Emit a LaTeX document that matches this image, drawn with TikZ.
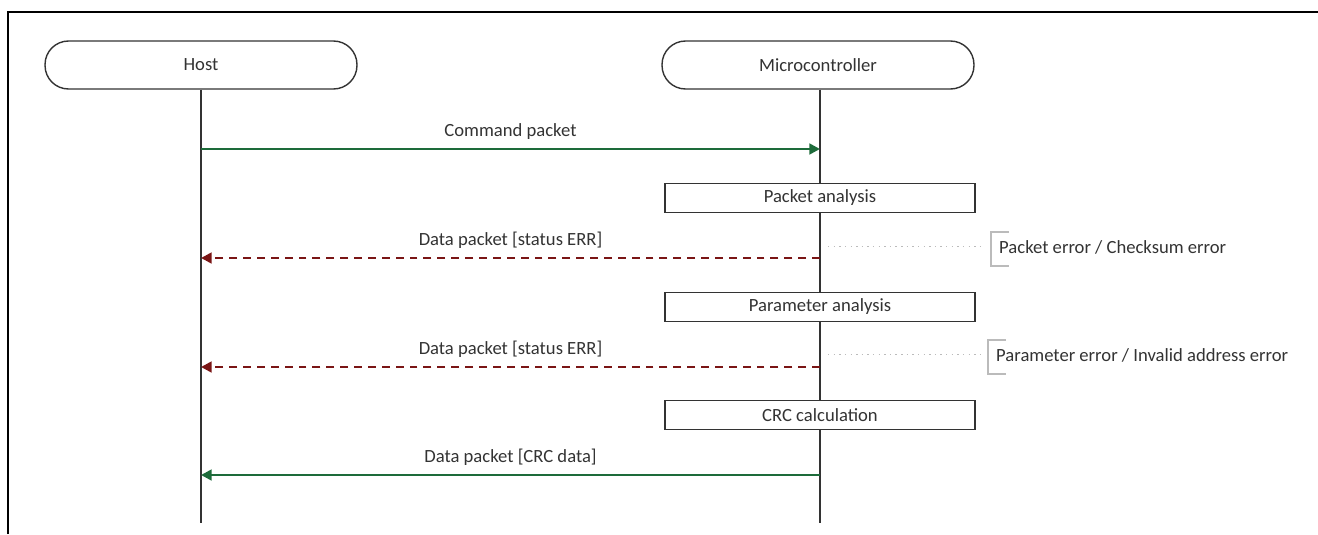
\documentclass[tikz,border=0pt]{standalone}
\usepackage{fontspec}
\setmainfont{Carlito}
\usetikzlibrary{positioning, arrows.meta}
\definecolor{msggreen}{HTML}{1D6B3A}
\definecolor{errred}{HTML}{7A1515}
\definecolor{linegray}{HTML}{333333}
\definecolor{notegray}{HTML}{BBBBBB}
\begin{document}
\begin{tikzpicture}[
      x=0.02cm, y=-0.02cm,
      every node/.style={font=\fontsize{10.6}{12}\selectfont, text=linegray},
      actor/.style={draw=linegray, line width=0.8pt, rounded corners=0.47cm, minimum width=6.24cm, minimum height=0.96cm, fill=white},
      stepbox/.style={draw=linegray, line width=0.9pt, minimum width=6.2cm, minimum height=0.58cm, fill=white, inner sep=0pt},
      lifeline/.style={draw=linegray, line width=0.8pt},
      okmsg/.style={draw=msggreen, line width=1.6pt, -{Triangle[length=6pt, width=6pt]}},
      errmsg/.style={draw=errred, line width=1.6pt, dash pattern=on 4.5pt off 3.4pt, -{Triangle[length=6pt, width=6pt]}},
      notedots/.style={draw=notegray, line width=0.5pt, dash pattern=on 0.8pt off 2.4pt},
      bracket/.style={draw=notegray, line width=0.6pt},
    ]
    \useasboundingbox (0,0) rectangle (1318,534);
    % frame
    \draw[line width=1.6pt] (8,534) -- (8,12) -- (1318,12);

    % participants
    \node[actor] (host) at (201,65) {Host};
    \node[actor] (mcu) at (818,65) {Microcontroller};
    \coordinate (hostend) at (201,523);
    \coordinate (mcuend) at (820,523);
    \draw[lifeline] (host.south) -- (hostend);
    \draw[lifeline] (mcu.south -| mcuend) -- (mcuend);

    % processing steps
    \node[stepbox] (pkt) at (820,198) {Packet analysis};
    \node[stepbox] (par) at (820,307) {Parameter analysis};
    \node[stepbox] (crc) at (820,415) {CRC calculation};

    % messages
    \coordinate (h1) at (201,149);
    \coordinate (m1) at (820,149);
    \coordinate (h2) at (201,258);
    \coordinate (m2) at (820,258);
    \coordinate (h3) at (201,367);
    \coordinate (m3) at (820,367);
    \coordinate (h4) at (201,475);
    \coordinate (m4) at (820,475);

    \draw[okmsg] (h1) -- node[above=1pt] (cmd) {Command packet} (m1);
    \draw[errmsg] (m2) -- node[above=1pt] (err1) {Data packet [status ERR]} (h2);
    \draw[errmsg] (m3) -- node[above=1pt] (err2) {Data packet [status ERR]} (h3);
    \draw[okmsg] (m4) -- node[above=1pt] (res) {Data packet [CRC data]} (h4);

    % error notes
    \node[anchor=west] (note1) at (993,247) {Packet error / Checksum error};
    \node[anchor=west] (note2) at (990,355) {Parameter error / Invalid address error};
    \coordinate (d1) at (828,246);
    \coordinate (d2) at (828,354);
    \draw[notedots] (d1) -- (d1 -| 982,0);
    \draw[notedots] (d2) -- (d2 -| 982,0);
    \draw[bracket] (1009,232) -| (991,266) -- (1009,266);
    \draw[bracket] (1006,340) -| (988,374) -- (1006,374);
  \end{tikzpicture}
\end{document}
